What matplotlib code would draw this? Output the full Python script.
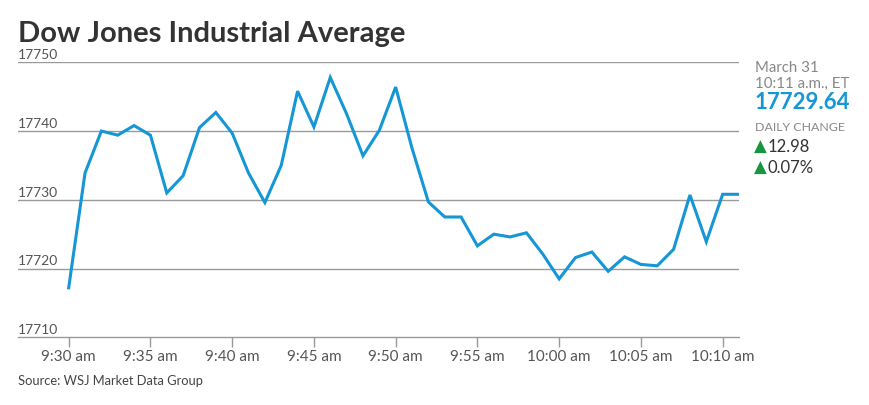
import matplotlib
matplotlib.use("Agg")
import matplotlib.pyplot as plt
import matplotlib.transforms as mtransforms

# minutes after 9:30 am, one print per minute
minutes = list(range(0, 42))
values = [
    17717.2, 17733.9, 17740.0, 17739.4, 17740.8, 17739.4, 17731.0, 17733.5,
    17740.5, 17742.7, 17739.7, 17733.9, 17729.6, 17735.0, 17745.8, 17740.6,
    17747.8, 17742.5, 17736.4, 17740.1, 17746.4, 17737.5, 17729.7, 17727.5,
    17727.5, 17723.3, 17725.0, 17724.6, 17725.2, 17722.1, 17718.5, 17721.6,
    17722.4, 17719.6, 17721.7, 17720.6, 17720.4, 17722.8, 17730.7, 17723.9,
    17730.8, 17730.8,
]
x_ticks = [0, 5, 10, 15, 20, 25, 30, 35, 40]
x_labels = ["9:30 am", "9:35 am", "9:40 am", "9:45 am", "9:50 am",
            "9:55 am", "10:00 am", "10:05 am", "10:10 am"]
y_ticks = [17710, 17720, 17730, 17740, 17750]

title = "Dow Jones Industrial Average"
source = "Source: WSJ Market Data Group"
stamp_date = "March 31"
stamp_time = "10:11 a.m., ET"
last_value = "17729.64"
change_pts = "12.98"
change_pct = "0.07%"

BLUE = "#1596d5"
GRID = "#9a9a9a"
TEXT = "#555555"
GREEN = "#17953f"

plt.rcParams["font.family"] = ["Lato", "DejaVu Sans"]

W, H = 870, 406
fig = plt.figure(figsize=(W / 100, H / 100), dpi=100)


def px(x, y):
    return x / W, 1 - y / H


l, t = px(18, 63.3)
r, b = px(739, 338.3)
ax = fig.add_axes([l, b, r - l, t - b])
ax.plot(minutes, values, color=BLUE, lw=2.2, solid_joinstyle="miter")
ax.set_xlim(-3.1, 41)
ax.set_ylim(17710, 17750)

for s in ["top", "right", "left"]:
    ax.spines[s].set_visible(False)
ax.spines["bottom"].set_color(GRID)
ax.spines["bottom"].set_linewidth(1)
for yv in y_ticks[1:]:
    ax.axhline(yv, color=GRID, lw=1, zorder=0)

ax.set_yticks([])
ax.set_xticks(x_ticks)
ax.set_xticklabels(x_labels, fontsize=11, color=TEXT)
ax.tick_params(axis="x", length=7, width=1, color=GRID, pad=1.5)

# y labels sit right-aligned just above their gridline
trans = mtransforms.blended_transform_factory(ax.transAxes, ax.transData)
for yv in y_ticks:
    ax.text((58 - 18) / (739 - 18), yv + 0.3, str(yv), transform=trans,
            ha="right", va="bottom", fontsize=10, color=TEXT)

fig.text(*px(18, 42), title, fontsize=21, fontweight="bold",
         color="#333333", va="baseline")
fig.text(*px(18, 385), source, fontsize=9.3, color="#444444", va="baseline")

fig.text(*px(755, 72), stamp_date, fontsize=10.8, color="#888888", va="baseline")
fig.text(*px(755, 88), stamp_time, fontsize=10.8, color="#888888", va="baseline")
fig.text(*px(755, 109), last_value, fontsize=16, fontweight="bold",
         color=BLUE, va="baseline")
fig.text(*px(755, 131), "DAILY CHANGE", fontsize=8.9, color="#888888",
         va="baseline")
for yb, val in [(152, change_pts), (173, change_pct)]:
    fig.text(*px(754, yb), "\u25b2", fontsize=12, color=GREEN, va="baseline",
             family=["DejaVu Sans"])
    fig.text(*px(768, yb), val, fontsize=12, color="#333333", va="baseline")

fig.savefig("out.png", dpi=100, facecolor="white")
